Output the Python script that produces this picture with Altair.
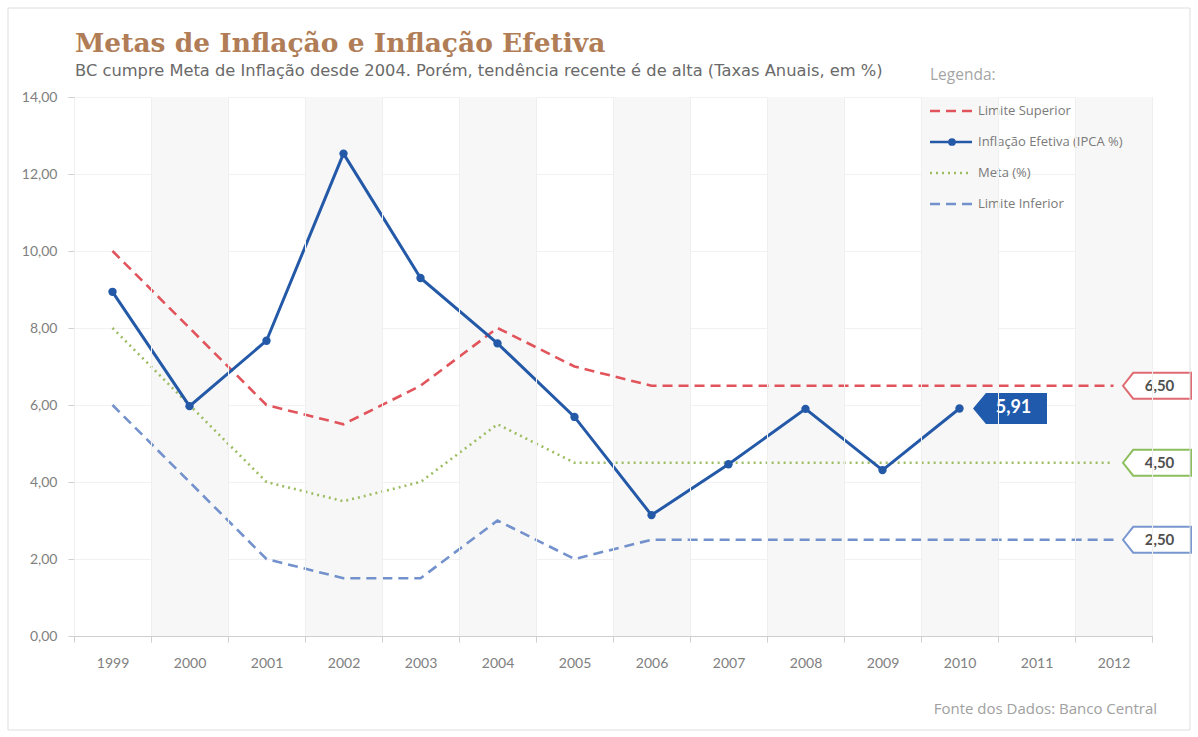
import altair as alt
import pandas as pd

# ---------------- data ----------------
anos = list(range(1999, 2013))
series = ["Limite Superior", "Inflação Efetiva (IPCA %)", "Meta (%)", "Limite Inferior"]
lim_sup = [10.0, 8.0, 6.0, 5.5, 6.5, 8.0, 7.0, 6.5, 6.5, 6.5, 6.5, 6.5, 6.5, 6.5]
ipca = [8.94, 5.97, 7.67, 12.53, 9.30, 7.60, 5.69, 3.14, 4.46, 5.90, 4.31, 5.91]
meta = [8.0, 6.0, 4.0, 3.5, 4.0, 5.5, 4.5, 4.5, 4.5, 4.5, 4.5, 4.5, 4.5, 4.5]
lim_inf = [6.0, 4.0, 2.0, 1.5, 1.5, 3.0, 2.0, 2.5, 2.5, 2.5, 2.5, 2.5, 2.5, 2.5]
y_ticks = [0, 2, 4, 6, 8, 10, 12, 14]

titulo = "Metas de Inflação e Inflação Efetiva"
subtitulo = "BC cumpre Meta de Inflação desde 2004. Porém, tendência recente é de alta (Taxas Anuais, em %)"
fonte_txt = "Fonte dos Dados: Banco Central"

cores = ["#e2545b", "#2459a8", "#9dbd62", "#7391cc"]
cores_tag = ["#e06a72", "#1f5aad", "#8cbf5c", "#7896d0"]
tracos = [[10, 6], [1, 0], [2, 4], [10, 6]]

W, H = 1078, 539

rows = []
for nome, vals in zip(series, [lim_sup, ipca, meta, lim_inf]):
    for a, v in zip(anos, vals):
        rows.append({"ano": a, "valor": v, "serie": nome})
df = pd.DataFrame(rows)
df_ipca = df[df.serie == series[1]]
df_lim = df[df.serie != series[1]]

bands = pd.DataFrame({"ano": [a for i, a in enumerate(anos) if i % 2 == 1]})

fmt = lambda v: f"{v:.2f}".replace(".", ",")
tags = pd.DataFrame({
    "ano": [anos[-1]] * 3,
    "valor": [lim_sup[-1], meta[-1], lim_inf[-1]],
    "serie": [series[0], series[2], series[3]],
    "rotulo": [fmt(lim_sup[-1]), fmt(meta[-1]), fmt(lim_inf[-1])],
})
tag_ipca = pd.DataFrame({"ano": [anos[len(ipca) - 1]], "valor": [ipca[-1]], "rotulo": [fmt(ipca[-1])]})

legend_df = pd.DataFrame({"serie": series})

# ---------------- encodings ----------------
x_enc = alt.X("ano:O", scale=alt.Scale(type="band", domain=anos, paddingInner=0, paddingOuter=0),
              axis=alt.Axis(tickBand="extent", labelAngle=0, title=None, grid=True,
                            gridColor="#efefef", domainColor="#cfcfcf", tickColor="#cfcfcf",
                            tickSize=6, labelPadding=14, labelColor="#808080",
                            labelFont="Lato", labelFontSize=14))
y_enc = alt.Y("valor:Q", scale=alt.Scale(domain=[0, 14], nice=False, zero=True),
              axis=alt.Axis(values=y_ticks, title=None, grid=True, gridColor="#f1f1f1",
                            domainColor="#cfcfcf", tickColor="#cfcfcf", tickSize=6,
                            labelPadding=11, labelColor="#808080", labelFont="Lato",
                            labelFontSize=14,
                            labelExpr="replace(format(datum.value, '.2f'), '.', ',')"))
color_scale = alt.Scale(domain=series, range=cores)
dash_scale = alt.Scale(domain=series, range=tracos)

shade = alt.Chart(bands).mark_rect(color="#f7f7f7").encode(
    x=x_enc, y=alt.Y(datum=14, scale=alt.Scale(domain=[0, 14], nice=False)), y2=alt.Y2(datum=0)
)

lines_lim = alt.Chart(df_lim).mark_line(strokeWidth=2.6).encode(
    x=x_enc, y=y_enc,
    color=alt.Color("serie:N", scale=color_scale, legend=None),
    strokeDash=alt.StrokeDash("serie:N", scale=dash_scale, legend=None),
    detail="serie:N",
)
line_ipca = alt.Chart(df_ipca).mark_line(strokeWidth=3, color=cores[1]).encode(x=x_enc, y=y_enc)
pts_ipca = alt.Chart(df_ipca).mark_circle(size=70, color=cores[1], opacity=1).encode(x=x_enc, y=y_enc)

tag_shape = "M -1 0 L -0.7 -0.38 L 1 -0.38 L 1 0.38 L -0.7 0.38 Z"
tag_marks = alt.Chart(tags).mark_point(shape=tag_shape, size=4624, filled=True, fill="white",
                                       strokeWidth=2, opacity=1, xOffset=43.5).encode(
    x=x_enc, y=y_enc,
    stroke=alt.Stroke("serie:N", scale=alt.Scale(domain=series, range=cores_tag), legend=None),
)
tag_text = alt.Chart(tags).mark_text(dx=46, fontSize=15, fontWeight="bold", color="#505050",
                                     font="Lato").encode(x=x_enc, y=y_enc, text="rotulo:N")

ipca_shape = "M -1 0 L -0.65 -0.42 L 1 -0.42 L 1 0.42 L -0.65 0.42 Z"
ipca_tag = alt.Chart(tag_ipca).mark_point(shape=ipca_shape, size=5476, filled=True,
                                          fill=cores_tag[1], opacity=1, xOffset=50.5).encode(
    x=x_enc, y=y_enc)
ipca_text = alt.Chart(tag_ipca).mark_text(dx=54, fontSize=18, fontWeight="bold", color="white",
                                          font="Lato").encode(x=x_enc, y=y_enc, text="rotulo:N")

main = alt.layer(shade, lines_lim, line_ipca, pts_ipca, tag_marks, tag_text, ipca_tag, ipca_text)

# ---------------- manual legend, titles, frame ----------------
leg_y = alt.Y("serie:N", scale=alt.Scale(type="point", domain=series, range=[14, 107], padding=0),
              axis=None)
leg_lines = alt.Chart(legend_df).mark_rule(strokeWidth=2.6).encode(
    x=alt.value(856), x2=alt.value(898), y=leg_y,
    color=alt.Color("serie:N", scale=color_scale, legend=None),
    strokeDash=alt.StrokeDash("serie:N", scale=dash_scale, legend=None),
)
leg_pt = alt.Chart(legend_df[legend_df.serie == series[1]]).mark_circle(
    size=60, color=cores[1], opacity=1).encode(x=alt.value(878), y=leg_y)
leg_text = alt.Chart(legend_df).mark_text(align="left", baseline="middle", fontSize=13,
                                          color="#7a7a7a", font="Open Sans").encode(
    x=alt.value(904), y=leg_y, text="serie:N")

def label(txt, x, y, **kw):
    return alt.Chart(pd.DataFrame({"t": [txt]})).mark_text(**kw).encode(
        x=alt.value(x), y=alt.value(y), text="t:N")

leg_title = label("Legenda:", 856, -22, align="left", baseline="middle", fontSize=15.5,
                  color="#a5a5a5", font="Open Sans")
fonte = label(fonte_txt, W + 5, H + 73, align="right", baseline="middle", fontSize=15,
              color="#a0a0a0", font="Open Sans")
title_m = label(titulo, 1, -45, align="left", baseline="alphabetic", fontSize=26.5,
                fontWeight="bold", color="#b07d56", font="DejaVu Serif")
subtitle_m = label(subtitulo, 1, -21, align="left", baseline="alphabetic", fontSize=16.3,
                   color="#6a6a6a", font="DejaVu Sans")
frame = alt.Chart(pd.DataFrame({"a": [0]})).mark_rect(fill=None, stroke="#dedede", strokeWidth=1).encode(
    x=alt.value(-66), x2=alt.value(1116), y=alt.value(-89), y2=alt.value(633))

legend = alt.layer(leg_lines, leg_pt, leg_text, leg_title, fonte, title_m, subtitle_m, frame)

chart = alt.layer(main, legend).resolve_scale(y="independent").properties(
    width=W, height=H,
    autosize=alt.AutoSizeParams(type="none"),
    padding={"left": 74, "top": 97, "right": 46, "bottom": 101},
).configure_view(stroke=None).configure(background="white")

chart.save("out.html", embed_options={"renderer": "svg", "actions": False})
